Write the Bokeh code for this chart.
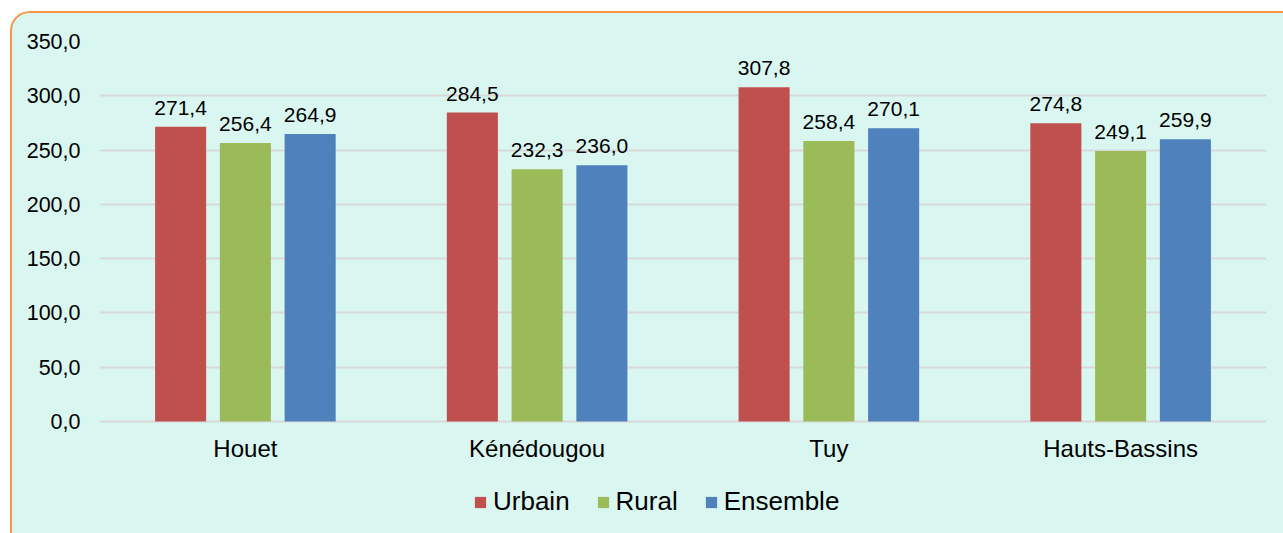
from bokeh.plotting import figure
from bokeh.models import (FactorRange, Range1d, ColumnDataSource, Legend, LegendItem,
                          FixedTicker, CustomJSTickFormatter)
from bokeh.transform import dodge
from bokeh.core.properties import value
from bokeh.embed import file_html
from bokeh.resources import INLINE

categories = ["Houet", "Kénédougou", "Tuy", "Hauts-Bassins"]
urbain = [271.4, 284.5, 307.8, 274.8]
rural = [256.4, 232.3, 258.4, 249.1]
ensemble = [264.9, 236.0, 270.1, 259.9]
series_names = ["Urbain", "Rural", "Ensemble"]
y_ticks = [0, 50, 100, 150, 200, 250, 300, 350]

colors = ["#c0504d", "#9bbb59", "#4f81bd"]
BG = "#d9f7f0"
FONT = "Liberation Sans"

def fmt(v):
    return f"{v:.1f}".replace(".", ",")

src = ColumnDataSource(dict(
    cat=categories,
    zero=[0] * len(categories),
    urbain=urbain, rural=rural, ensemble=ensemble,
    l_urbain=[fmt(v) for v in urbain],
    l_rural=[fmt(v) for v in rural],
    l_ensemble=[fmt(v) for v in ensemble],
))

W, H = 1273, 522
TOP = 28
PLOT_PX = 380          # pixels used by 0..350
below_px = H - TOP - PLOT_PX   # room under the baseline for labels and legend
y_bottom = -below_px * 350 / PLOT_PX
p = figure(x_range=FactorRange(factors=categories, range_padding=0),
           y_range=Range1d(y_bottom, 350),
           width=W, height=H, output_backend="svg", toolbar_location=None,
           min_border_left=87, min_border_right=19, min_border_top=TOP, min_border_bottom=0)
p.margin = (11, 0, 0, 10)
p.styles = {"border-top": "2px solid #f79646", "border-left": "2px solid #f79646",
            "border-top-left-radius": "20px", "overflow": "hidden",
            "background-color": BG}
p.background_fill_color = BG
p.border_fill_color = BG
p.outline_line_color = None

offsets = [-0.222, 0.0, 0.222]
keys = ["urbain", "rural", "ensemble"]
items = []
for key, off, col, name in zip(keys, offsets, colors, series_names):
    r = p.vbar(x=dodge("cat", off, range=p.x_range), top=key, bottom=0, width=0.175,
               source=src, fill_color=col, line_color=None)
    p.text(x=dodge("cat", off, range=p.x_range), y=key, text="l_" + key, source=src,
           text_align="center", text_baseline="bottom", y_offset=-12,
           text_font=value(FONT), text_font_size="21px", text_color="#000000")
    items.append(LegendItem(label=name, renderers=[r]))

# category labels under the baseline
p.text(x="cat", y="zero", text="cat", source=src, text_align="center",
       text_baseline="middle", y_offset=27,
       text_font=value(FONT), text_font_size="24px", text_color="#000000")

p.xaxis.visible = False
p.yaxis.ticker = FixedTicker(ticks=y_ticks)
p.yaxis.formatter = CustomJSTickFormatter(code="return tick.toFixed(1).replace('.', ',');")
p.yaxis.axis_line_color = None
p.yaxis.major_tick_line_color = None
p.yaxis.minor_tick_line_color = None
p.yaxis.major_label_standoff = 13
p.yaxis.major_label_text_font = FONT
p.yaxis.major_label_text_font_size = "21.5px"
p.yaxis.major_label_text_color = "#000000"

p.xgrid.grid_line_color = None
p.ygrid.grid_line_color = "#d9d9d9"
p.ygrid.grid_line_width = 2

legend = Legend(items=items, orientation="horizontal", location=(374, 18),
                label_text_font=FONT, label_text_font_size="26px", label_text_color="#000000",
                glyph_width=14, glyph_height=14, label_standoff=6, spacing=26,
                background_fill_alpha=0, border_line_color=None, padding=0, margin=0)
p.add_layout(legend)

open("out.html", "w").write(file_html(p, INLINE))
